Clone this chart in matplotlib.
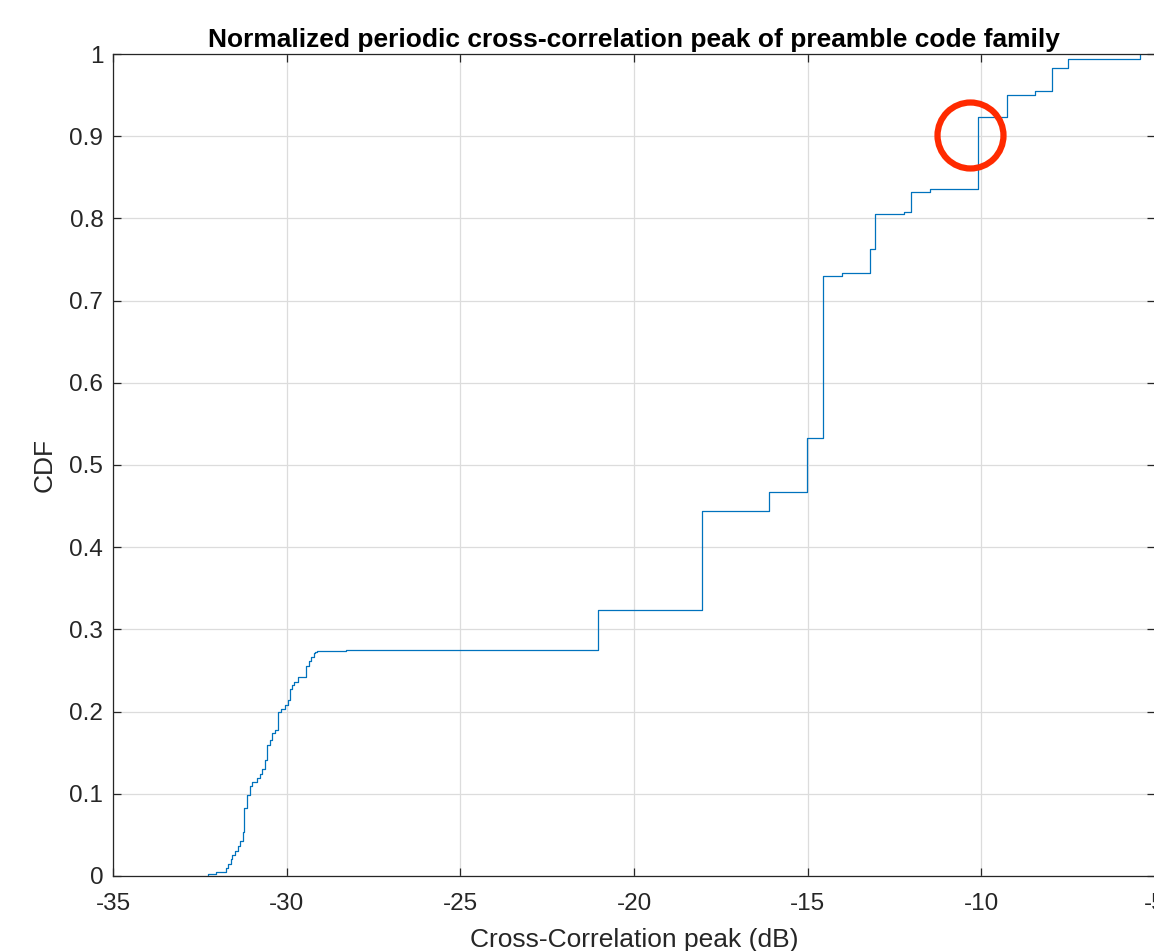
import numpy as np
import matplotlib
matplotlib.use("Agg")
import matplotlib.pyplot as plt

# step positions (dB) and CDF level reached at each step
step_x = [-32.26, -32.02, -31.76, -31.69, -31.61, -31.57, -31.49, -31.40, -31.35,
          -31.27, -31.23, -31.14, -31.06, -30.99, -30.85, -30.78, -30.71, -30.63,
          -30.57, -30.49, -30.41, -30.34, -30.25, -30.15, -30.04, -29.96, -29.91,
          -29.86, -29.79, -29.68, -29.44, -29.37, -29.29, -29.22, -29.17, -29.12,
          -28.30, -21.05, -18.05, -16.12, -15.01, -14.56, -14.01, -13.22, -13.05,
          -12.24, -12.03, -11.47, -10.09, -9.25, -8.46, -7.98, -7.50, -5.44]
step_y = [0.0024, 0.0045, 0.0094, 0.0146, 0.0203, 0.0255, 0.0308, 0.0365, 0.0429,
          0.0539, 0.0824, 0.0985, 0.1095, 0.114, 0.119, 0.124, 0.130, 0.141,
          0.159, 0.165, 0.174, 0.178, 0.200, 0.203, 0.208, 0.214, 0.228,
          0.232, 0.236, 0.242, 0.255, 0.261, 0.267, 0.271, 0.273, 0.274,
          0.2755, 0.3236, 0.444, 0.4668, 0.5333, 0.7303, 0.734, 0.7628, 0.8054,
          0.808, 0.8325, 0.8354, 0.9237, 0.950, 0.9553, 0.9834, 0.9939, 1.0]

xticks = [-35, -30, -25, -20, -15, -10, -5]
yticks = [0, 0.1, 0.2, 0.3, 0.4, 0.5, 0.6, 0.7, 0.8, 0.9, 1]
ytick_labels = ["0", "0.1", "0.2", "0.3", "0.4", "0.5", "0.6", "0.7", "0.8", "0.9", "1"]

# red circle marking the jump near -10 dB
mark_x = -10.32
mark_y = 0.9015

plt.rcParams['font.family'] = ['Liberation Sans', 'DejaVu Sans']
plt.rcParams['axes.unicode_minus'] = False

fig = plt.figure(figsize=(11.54, 9.51), dpi=100)
ax = fig.add_axes([0.0979, 0.0789, 0.903, 0.8643])

xs = [step_x[0]] + step_x
ys = [0.0] + step_y
ax.step(xs, ys, where='post', color='#0072BD', lw=0.9)

ax.plot([mark_x], [mark_y], marker='o', ms=47.5, mfc='none', mec='#FF2A00',
        mew=4.5, clip_on=False, zorder=5)

ax.set_xlim(-35, -5)
ax.set_ylim(0, 1)
ax.set_xticks(xticks)
ax.set_xticklabels([str(t) for t in xticks])
ax.set_yticks(yticks)
ax.set_yticklabels(ytick_labels)

ax.grid(True, color='#dcdcdc', lw=0.9)
ax.set_axisbelow(True)
for s in ax.spines.values():
    s.set_color('#262626')
    s.set_linewidth(0.9)
ax.tick_params(direction='in', length=6, width=0.9, colors='#262626',
               labelsize=17.5, top=True, right=True)
ax.tick_params(axis='x', pad=12)
ax.tick_params(axis='y', pad=7)

ax.set_title('Normalized periodic cross-correlation peak of preamble code family',
             fontsize=19, fontweight='bold', pad=5)
ax.set_xlabel('Cross-Correlation peak (dB)', fontsize=19, color='#262626')
ax.set_ylabel('CDF', fontsize=19, color='#262626')
ax.yaxis.set_label_coords(-0.054, 0.5)
ax.xaxis.set_label_coords(0.5, -0.063)

fig.savefig('out.png', dpi=100)
